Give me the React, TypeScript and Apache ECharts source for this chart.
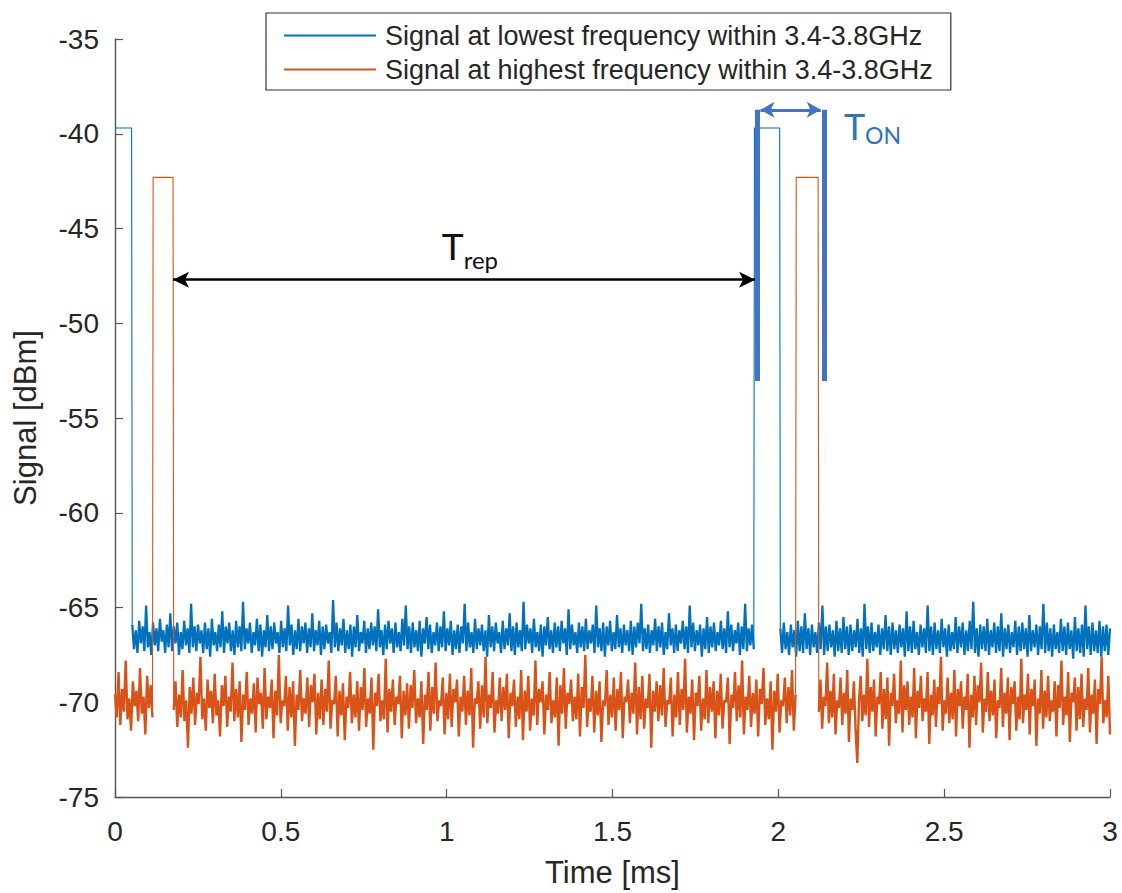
import React, { useEffect, useRef } from "react";
import * as echarts from "echarts";

// ---------------- data ----------------
const SERIES_NAMES = [
  "Signal at lowest frequency within 3.4-3.8GHz",
  "Signal at highest frequency within 3.4-3.8GHz",
];
const X_MIN = 0;
const X_MAX = 3;
const X_INTERVAL = 0.5;
const Y_MIN = -75;
const Y_MAX = -35;
const Y_INTERVAL = 5;

// pulse levels (dBm) and on-intervals (ms)
const BLUE_TOP = -39.7;
const ORANGE_TOP = -42.3;
const BLUE_PULSE_1 = [0, 0.05];
const BLUE_PULSE_2 = [1.928, 2.004];
const ORANGE_PULSE_1 = [0.115, 0.175];
const ORANGE_PULSE_2 = [2.054, 2.12];

// noise segments: [start, end] in ms and sampled values in dBm
const BLUE_NOISE_A_SPAN = [0.052, 1.926];
const BLUE_NOISE_A = [
  -65.9,-67.2,-66.2,-67.4,-65.7,-66.9,-66.0,-67.3,-64.9,-67.1,-66.3,-67.5,-65.8,-67.0,-66.1,-67.3,-65.6,-66.8,-66.2,-67.4,
  -65.9,-67.1,-65.3,-67.3,-66.0,-66.9,-65.8,-67.5,-66.3,-67.2,-65.7,-67.0,-66.1,-67.4,-64.8,-67.1,-66.0,-67.3,-65.9,-66.9,
  -66.2,-67.4,-65.8,-67.2,-66.1,-67.6,-65.6,-67.0,-66.3,-67.3,-65.9,-67.1,-65.2,-67.4,-66.0,-66.9,-65.8,-67.3,-66.2,-67.5,
  -65.7,-67.1,-66.0,-67.3,-64.7,-67.2,-66.1,-66.9,-65.8,-67.4,-66.3,-67.0,-65.6,-67.3,-65.9,-67.6,-66.2,-67.1,-65.4,-67.3,
  -66.0,-67.2,-65.8,-66.9,-66.3,-67.4,-65.7,-67.1,-66.1,-67.3,-64.9,-67.0,-65.9,-67.5,-66.2,-67.2,-65.6,-67.3,-66.0,-66.9,
  -65.8,-67.4,-66.1,-67.1,-65.3,-67.3,-66.2,-67.0,-65.7,-67.5,-66.0,-67.2,-65.9,-66.9,-66.3,-67.4,-64.6,-67.1,-65.8,-67.3,
  -66.1,-67.0,-65.6,-67.4,-66.2,-67.2,-65.9,-67.6,-66.0,-67.1,-65.4,-67.3,-66.3,-66.9,-65.7,-67.4,-66.1,-67.2,-65.8,-67.0,
  -66.0,-67.3,-65.1,-67.1,-66.2,-67.5,-65.9,-67.2,-65.7,-66.9,-66.1,-67.4,-65.8,-67.1,-66.3,-67.3,-65.6,-67.0,-64.9,-67.2,
  -66.0,-67.4,-65.8,-67.1,-66.2,-67.3,-65.7,-67.6,-66.1,-66.9,-65.5,-67.2,-65.9,-67.4,-66.3,-67.0,-65.8,-67.3,-66.0,-67.1,
  -65.2,-67.3,-66.1,-67.0,-65.7,-67.5,-66.2,-67.2,-65.9,-67.4,-66.0,-66.9,-64.8,-67.3,-65.8,-67.1,-66.3,-67.4,-65.6,-67.2,
  -66.1,-67.0,-65.9,-67.3,-66.2,-67.6,-65.4,-67.1,-66.0,-67.3,-65.8,-66.9,-66.3,-67.4,-65.7,-67.2,-66.1,-67.0,-65.3,-67.3,
  -66.0,-67.5,-65.8,-67.1,-66.2,-67.3,-64.7,-67.2,-65.9,-66.9,-66.1,-67.4,-65.6,-67.1,-66.3,-67.3,-65.9,-67.6,-66.0,-67.0,
  -65.5,-67.2,-66.2,-67.4,-65.8,-67.1,-66.0,-67.3,-65.7,-66.9,-66.1,-67.5,-65.1,-67.2,-65.9,-67.0,-66.3,-67.4,-65.8,-67.1,
  -66.0,-67.3,-65.6,-67.2,-66.2,-66.9,-65.9,-67.4,-64.9,-67.1,-66.1,-67.3,-65.8,-67.6,-66.0,-67.0,-65.7,-67.3,-66.3,-67.2,
  -65.4,-67.1,-66.1,-67.4,-65.9,-67.0,-66.2,-67.3,-65.7,-67.5,-66.0,-67.1,-65.8,-66.9,-64.8,-67.3,-66.1,-67.2,-65.9,-67.4,
  -66.2,-67.0,-65.6,-67.3,-66.0,-67.1,-65.8,-67.5,-66.3,-67.2,-65.3,-67.0,-66.1,-67.4,-65.9,-67.3,-66.2,-66.9,-65.7,-67.2,
  -66.0,-67.4,-64.9,-67.1,-65.8,-67.3,-66.2,-67.0,-65.9,-67.6,-66.1,-67.2,-65.5,-67.4,-66.0,-67.1,-65.8,-67.3,-66.3,-67.0,
  -65.7,-67.2,-66.1,-67.4,-65.2,-67.1,-65.9,-67.3,-66.2,-66.9,-65.8,-67.5,-66.0,-67.2,-64.8,-67.3,-66.1,-67.0,-65.9,-67.2,
];
const BLUE_NOISE_B_SPAN = [2.006, 3.0];
const BLUE_NOISE_B = [
  -66.1,-67.4,-65.8,-67.2,-66.3,-67.5,-65.9,-67.1,-66.2,-67.6,-65.7,-67.3,-66.0,-67.4,-65.3,-67.2,-66.1,-67.5,-65.9,-67.1,
  -66.3,-67.4,-65.8,-67.2,-64.9,-67.5,-66.0,-67.3,-65.9,-67.1,-66.2,-67.6,-65.7,-67.3,-66.1,-67.4,-65.5,-67.2,-66.0,-67.5,
  -65.9,-67.3,-66.2,-67.1,-65.6,-67.4,-66.1,-67.6,-64.8,-67.2,-66.0,-67.4,-65.8,-67.3,-66.3,-67.1,-65.9,-67.5,-66.1,-67.2,
  -65.4,-67.3,-66.0,-67.5,-65.8,-67.2,-66.2,-67.4,-65.9,-67.1,-66.1,-67.6,-65.2,-67.3,-66.0,-67.4,-65.7,-67.2,-66.3,-67.5,
  -65.9,-67.1,-66.1,-67.4,-64.9,-67.3,-66.0,-67.5,-65.8,-67.2,-66.2,-67.4,-65.6,-67.1,-66.1,-67.6,-65.9,-67.3,-66.3,-67.2,
  -65.5,-67.4,-66.0,-67.1,-65.8,-67.5,-66.2,-67.3,-65.7,-67.2,-64.7,-67.4,-66.1,-67.6,-65.9,-67.2,-66.0,-67.3,-65.6,-67.5,
  -66.2,-67.1,-65.8,-67.4,-66.0,-67.3,-65.3,-67.6,-66.1,-67.2,-65.9,-67.4,-66.3,-67.1,-65.7,-67.5,-66.0,-67.3,-65.8,-67.2,
  -66.1,-67.6,-65.4,-67.3,-66.2,-67.1,-65.9,-67.5,-66.0,-67.2,-64.8,-67.4,-65.8,-67.3,-66.1,-67.6,-65.9,-67.2,-66.3,-67.4,
  -65.6,-67.3,-66.0,-67.5,-65.8,-67.2,-66.2,-67.7,-65.5,-67.3,-66.1,-67.4,-65.9,-67.6,-64.9,-67.2,-66.0,-67.5,-65.8,-67.3,
  -66.2,-67.4,-65.7,-67.6,-66.0,-67.3,-65.9,-67.5,-66.1,
];
const ORANGE_NOISE_A_SPAN = [0, 0.113];
const ORANGE_NOISE_A = [
  -69.6,-70.8,-68.4,-71.2,-69.3,-70.5,-67.8,-70.9,-69.8,-71.5,-68.9,-70.2,-69.4,-71.0,-68.2,-70.6,-69.7,-71.7,-68.6,-70.3,-69.1,-70.8,
];
const ORANGE_NOISE_B_SPAN = [0.177, 2.052];
const ORANGE_NOISE_B = [
  -70.4,-68.9,-71.3,-69.6,-70.8,-68.3,-71.0,-69.9,-72.4,-69.2,-70.6,-68.7,-71.2,-69.5,-70.1,-67.6,-70.9,-69.8,-71.5,-68.8,
  -70.3,-69.4,-71.1,-68.5,-70.7,-69.9,-71.8,-69.1,-70.2,-68.6,-71.3,-69.7,-70.5,-67.9,-71.0,-69.3,-70.8,-68.9,-72.1,-69.6,
  -70.4,-68.4,-71.2,-69.8,-70.6,-69.0,-71.6,-68.7,-70.1,-69.5,-71.4,-68.2,-70.9,-69.7,-70.3,-68.8,-71.9,-69.4,-70.7,-67.5,
  -71.1,-69.9,-70.2,-68.6,-71.5,-69.2,-70.8,-68.9,-72.3,-69.6,-70.4,-68.3,-71.0,-69.8,-70.6,-68.7,-71.3,-69.1,-70.0,-68.5,
  -71.7,-69.5,-70.9,-68.8,-71.2,-69.3,-70.5,-67.8,-71.4,-69.9,-70.1,-68.6,-71.8,-69.4,-70.7,-69.0,-72.0,-69.7,-70.3,-68.4,
  -71.1,-69.6,-70.8,-68.9,-71.5,-69.2,-70.4,-68.2,-71.3,-69.8,-70.6,-68.7,-72.5,-69.5,-70.2,-68.5,-71.0,-69.9,-70.9,-67.7,
  -71.6,-69.3,-70.5,-68.8,-71.2,-69.7,-70.1,-68.6,-71.9,-69.4,-70.7,-69.0,-71.4,-69.1,-70.3,-68.3,-71.1,-69.8,-70.8,-68.9,
  -72.2,-69.6,-70.4,-68.4,-71.5,-69.2,-70.6,-67.9,-71.0,-69.9,-70.2,-68.7,-71.7,-69.5,-70.9,-68.5,-71.3,-69.3,-70.0,-68.8,
  -71.8,-69.7,-70.5,-68.6,-71.2,-69.4,-70.7,-68.2,-72.4,-69.8,-70.1,-68.9,-71.4,-69.1,-70.8,-67.6,-71.1,-69.6,-70.3,-68.4,
  -71.6,-69.9,-70.6,-68.7,-71.0,-69.2,-70.4,-68.5,-71.9,-69.5,-70.2,-68.8,-71.3,-69.7,-70.9,-68.3,-72.0,-69.4,-70.5,-68.6,
  -71.5,-69.8,-70.7,-67.8,-71.2,-69.3,-70.0,-68.9,-71.7,-69.6,-70.4,-68.4,-71.1,-69.9,-70.8,-68.7,-72.3,-69.1,-70.6,-68.2,
  -71.4,-69.5,-70.1,-68.8,-71.0,-69.7,-70.9,-68.5,-71.8,-69.2,-70.3,-67.5,-71.3,-69.8,-70.5,-68.6,-71.6,-69.4,-70.7,-68.9,
  -72.1,-69.9,-70.2,-68.3,-71.2,-69.6,-70.8,-68.7,-71.5,-69.3,-70.4,-68.4,-71.9,-69.7,-70.0,-68.8,-71.1,-69.5,-70.6,-67.9,
  -71.7,-69.2,-70.9,-68.6,-71.4,-69.8,-70.3,-68.5,-72.4,-69.4,-70.5,-68.9,-71.0,-69.1,-70.7,-68.2,-71.3,-69.9,-70.1,-68.7,
  -71.8,-69.6,-70.8,-68.4,-71.2,-69.3,-70.4,-67.7,-71.6,-69.7,-70.6,-68.8,-72.0,-69.5,-70.2,-68.6,-71.5,-69.8,-70.9,-68.3,
  -71.1,-69.2,-70.5,-68.9,-71.9,-69.4,-70.7,-68.5,-71.4,-69.9,-70.0,-68.7,-72.2,-69.6,-70.3,-68.4,-71.0,-69.1,-70.8,-67.8,
  -71.7,-69.7,-70.4,-68.6,-71.3,-69.5,-70.6,-68.8,-71.8,-69.3,-70.1,-68.2,-71.2,-69.8,-70.9,-68.9,-72.5,-69.4,-70.5,-68.5,
  -71.6,-69.9,-70.2,-68.7,-71.1,-69.2,-70.7,-68.3,-71.5,-69.6,
];
const ORANGE_NOISE_C_SPAN = [2.122, 3.0];
const ORANGE_NOISE_C = [
  -70.5,-68.8,-71.4,-69.7,-70.2,-67.9,-71.1,-69.4,-70.8,-68.5,-71.7,-69.9,-70.3,-68.7,-71.2,-69.5,-70.6,-68.3,-72.1,-69.8,
  -70.4,-68.9,-71.5,-73.2,-70.0,-68.6,-71.0,-69.6,-70.7,-67.7,-71.3,-69.2,-70.5,-68.8,-71.8,-69.7,-70.1,-68.4,-71.4,-69.3,
  -70.9,-68.7,-72.3,-69.5,-70.2,-68.5,-71.1,-69.9,-70.6,-67.8,-71.6,-69.1,-70.4,-68.9,-71.2,-69.7,-70.8,-68.2,-71.9,-69.4,
  -70.3,-68.6,-71.0,-69.8,-70.5,-68.4,-72.2,-69.6,-70.7,-68.8,-71.3,-69.2,-70.1,-67.6,-71.5,-69.9,-70.6,-68.7,-71.1,-69.5,
  -70.9,-68.3,-71.8,-69.3,-70.2,-68.9,-71.4,-69.7,-70.4,-68.5,-72.4,-69.6,-70.8,-68.6,-71.2,-69.1,-70.0,-67.9,-71.6,-69.8,
  -70.5,-68.4,-71.0,-69.4,-70.7,-68.8,-71.9,-69.9,-70.3,-68.2,-71.3,-69.5,-70.6,-68.7,-72.0,-69.2,-70.1,-68.9,-71.5,-69.7,
  -70.9,-67.7,-71.1,-69.6,-70.4,-68.5,-71.7,-69.3,-70.2,-68.8,-72.3,-69.8,-70.6,-68.3,-71.4,-69.4,-70.8,-68.6,-71.0,-69.9,
  -70.5,-68.9,-71.8,-69.1,-70.3,-67.8,-71.2,-69.7,-70.7,-68.4,-72.1,-69.5,-70.0,-68.7,-71.5,-69.2,-70.9,-68.5,-71.3,-69.8,
  -70.4,-68.2,-71.6,-69.6,-70.6,-68.8,-72.2,-69.3,-70.1,-67.6,-71.1,-69.9,-70.8,-68.6,-71.7,
];

// annotation anchors (data coordinates)
const TREP_ARROW = { y: -47.7, from: 0.175, to: 1.93 };
const TON_BARS = { left: 1.936, right: 2.138, top: -38.74, bottom: -53.05 };
const TON_ARROW = { y: -38.74, from: 1.946, to: 2.128 };
const TREP_LABEL_AT = [0.985, -45.9];
const TON_LABEL_AT = [2.198, -39.6];

// ---------------- helpers ----------------
function segment(values: number[], span: number[]) {
  const n = values.length;
  return values.map((v, i) => [span[0] + (i * (span[1] - span[0])) / (n - 1), v]);
}
const GAP = (t: number) => [t, "-"];

const blueA = segment(BLUE_NOISE_A, BLUE_NOISE_A_SPAN);
const blueB = segment(BLUE_NOISE_B, BLUE_NOISE_B_SPAN);
const orangeA = segment(ORANGE_NOISE_A, ORANGE_NOISE_A_SPAN);
const orangeB = segment(ORANGE_NOISE_B, ORANGE_NOISE_B_SPAN);
const orangeC = segment(ORANGE_NOISE_C, ORANGE_NOISE_C_SPAN);

// noise floor (drawn dense) and pulse outlines (drawn thin)
const blueNoise = [...blueA, GAP((BLUE_PULSE_2[0] + BLUE_PULSE_2[1]) / 2), ...blueB];
const bluePulses = [
  [BLUE_PULSE_1[0], BLUE_TOP],
  [BLUE_PULSE_1[1], BLUE_TOP],
  blueA[0],
  GAP(1),
  blueA[blueA.length - 1],
  [BLUE_PULSE_2[0], BLUE_TOP],
  [BLUE_PULSE_2[1], BLUE_TOP],
  blueB[0],
];
const orangeNoise = [
  ...orangeA,
  GAP((ORANGE_PULSE_1[0] + ORANGE_PULSE_1[1]) / 2),
  ...orangeB,
  GAP((ORANGE_PULSE_2[0] + ORANGE_PULSE_2[1]) / 2),
  ...orangeC,
];
const orangePulses = [
  orangeA[orangeA.length - 1],
  [ORANGE_PULSE_1[0], ORANGE_TOP],
  [ORANGE_PULSE_1[1], ORANGE_TOP],
  orangeB[0],
  GAP(1),
  orangeB[orangeB.length - 1],
  [ORANGE_PULSE_2[0], ORANGE_TOP],
  [ORANGE_PULSE_2[1], ORANGE_TOP],
  orangeC[0],
];

const FONT = "'Liberation Sans', Arial, Helvetica, sans-serif";
const ANN_FONT = "Lato, 'Open Sans', sans-serif";
const BLUE = "#0072BD";
const ORANGE = "#D95319";
const ANN_BLUE = "#4472C4";
const TON_TEXT = "#2E75B6";

export default function App() {
  const ref = useRef<HTMLDivElement>(null);

  useEffect(() => {
    if (!ref.current) return;
    const chart = echarts.init(ref.current, null, { renderer: "svg" });
    const axisLine = { show: true, lineStyle: { color: "#555", width: 1.4 } };
    const lineSeries = (name: string, data: any[], color: string, width: number, z: number) => ({
      name,
      type: "line",
      data,
      showSymbol: false,
      symbol: "none",
      connectNulls: false,
      color,
      lineStyle: { color, width },
      z,
    });
    chart.setOption({
      animation: false,
      backgroundColor: "#fff",
      grid: { left: 115, right: 12, top: 39, bottom: 95, containLabel: false },
      legend: {
        data: SERIES_NAMES,
        orient: "vertical",
        left: 266,
        top: 13,
        icon: "rect",
        itemWidth: 92,
        itemHeight: 2,
        itemGap: 7,
        padding: [9, 18, 7, 18],
        borderColor: "#333",
        borderWidth: 1.2,
        backgroundColor: "#fff",
        selectedMode: false,
        textStyle: { fontFamily: FONT, fontSize: 27, color: "#262626", padding: [0, 0, 0, 4] },
      },
      xAxis: {
        type: "value",
        min: X_MIN,
        max: X_MAX,
        interval: X_INTERVAL,
        name: "Time [ms]",
        nameLocation: "middle",
        nameGap: 60,
        nameTextStyle: { fontFamily: FONT, fontSize: 31, color: "#262626" },
        axisLine,
        axisTick: { show: true, inside: true, length: 8, lineStyle: { color: "#555", width: 1.2 } },
        axisLabel: { fontFamily: FONT, fontSize: 28, color: "#262626", margin: 20 },
        splitLine: { show: false },
      },
      yAxis: {
        type: "value",
        min: Y_MIN,
        max: Y_MAX,
        interval: Y_INTERVAL,
        name: "Signal [dBm]",
        nameLocation: "middle",
        nameGap: 74,
        nameTextStyle: { fontFamily: FONT, fontSize: 31, color: "#262626" },
        axisLine,
        axisTick: { show: true, inside: true, length: 8, lineStyle: { color: "#555", width: 1.2 } },
        axisLabel: { fontFamily: FONT, fontSize: 28, color: "#262626", margin: 16 },
        splitLine: { show: false },
      },
      series: [
        lineSeries(SERIES_NAMES[0], blueNoise, BLUE, 2.3, 2),
        lineSeries(SERIES_NAMES[0], bluePulses, BLUE, 1.1, 2),
        lineSeries(SERIES_NAMES[1], orangeNoise, ORANGE, 2.4, 3),
        lineSeries(SERIES_NAMES[1], orangePulses, ORANGE, 1.1, 3),
        {
          name: "annotations",
          type: "line",
          data: [],
          z: 5,
          markLine: {
            silent: true,
            animation: false,
            label: { show: false },
            symbol: ["none", "none"],
            data: [
              [
                { coord: [TREP_ARROW.from, TREP_ARROW.y], symbol: "arrow", symbolSize: [12, 16], lineStyle: { color: "#000", width: 2.6, type: "solid" } },
                { coord: [TREP_ARROW.to, TREP_ARROW.y], symbol: "arrow", symbolSize: [12, 16] },
              ],
              [
                { coord: [TON_BARS.left, TON_BARS.top], symbol: "none", lineStyle: { color: ANN_BLUE, width: 5, type: "solid" } },
                { coord: [TON_BARS.left, TON_BARS.bottom], symbol: "none" },
              ],
              [
                { coord: [TON_BARS.right, TON_BARS.top], symbol: "none", lineStyle: { color: ANN_BLUE, width: 5, type: "solid" } },
                { coord: [TON_BARS.right, TON_BARS.bottom], symbol: "none" },
              ],
              [
                { coord: [TON_ARROW.from, TON_ARROW.y], symbol: "arrow", symbolSize: [12, 14], lineStyle: { color: ANN_BLUE, width: 3, type: "solid" } },
                { coord: [TON_ARROW.to, TON_ARROW.y], symbol: "arrow", symbolSize: [12, 14] },
              ],
            ],
          },
        },
      ],
    });

    const trep = chart.convertToPixel({ gridIndex: 0 }, TREP_LABEL_AT) as number[];
    const ton = chart.convertToPixel({ gridIndex: 0 }, TON_LABEL_AT) as number[];
    chart.setOption({
      graphic: [
        { type: "text", x: trep[0], y: trep[1], z: 10, style: { text: "T", fontFamily: ANN_FONT, fontSize: 37, fill: "#111", align: "left", verticalAlign: "middle" } },
        { type: "text", x: trep[0] + 22, y: trep[1] + 14, z: 10, style: { text: "rep", fontFamily: ANN_FONT, fontSize: 24, fill: "#111", align: "left", verticalAlign: "middle" } },
        { type: "text", x: ton[0], y: ton[1], z: 10, style: { text: "T", fontFamily: ANN_FONT, fontSize: 36, fill: TON_TEXT, align: "left", verticalAlign: "middle" } },
        { type: "text", x: ton[0] + 21, y: ton[1] + 9, z: 10, style: { text: "ON", fontFamily: ANN_FONT, fontSize: 23, fill: TON_TEXT, align: "left", verticalAlign: "middle" } },
      ],
    });

    return () => chart.dispose();
  }, []);

  return (
    <div
      ref={ref}
      style={{ position: "absolute", left: 0, top: 0, width: 1122, height: 893, background: "#fff" }}
    />
  );
}
